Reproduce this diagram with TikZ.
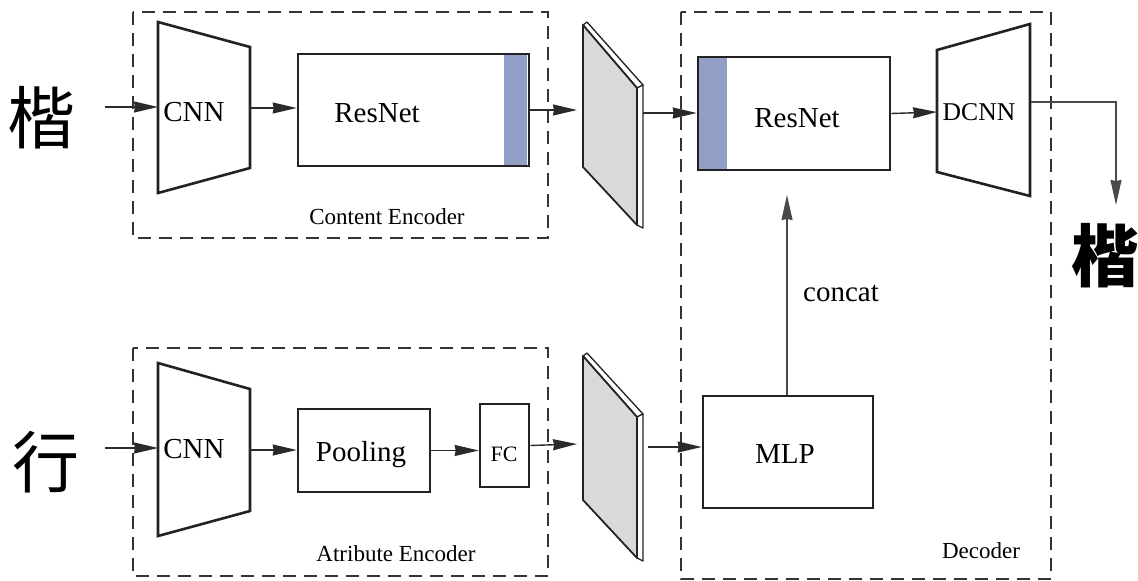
\documentclass[tikz,border=0pt]{standalone}
\usepackage{fontspec}
\setmainfont{Liberation Serif}
\newfontfamily\cjk{Noto Sans CJK SC}
\usetikzlibrary{arrows.meta,calc}
\definecolor{linec}{HTML}{222222}
\definecolor{arrc}{HTML}{2A2A2A}
\definecolor{dashc}{HTML}{333333}
\definecolor{stripc}{HTML}{919FC6}
\definecolor{slabc}{HTML}{D9D9D9}
\begin{document}
\begin{tikzpicture}[x=1pt,y=-1pt,
  group/.style={draw=dashc, line width=2.2pt, dash pattern=on 13pt off 8pt},
  blockbox/.style={draw=linec, line width=2.6pt, fill=white, inner sep=0pt},
  trap/.style={draw=linec, line width=2.6pt, fill=white, line join=miter},
  slabface/.style={draw=linec, line width=1.8pt, fill=slabc, line join=round},
  slabedge/.style={draw=linec, line width=1.3pt, fill=white, line join=round},
  arr/.style={draw=arrc, line width=1.4pt, -{Stealth[length=24pt,width=11pt,inset=1pt]}},
  thinarr/.style={draw=arrc!85, line width=1.2pt, -{Stealth[length=25pt,width=11pt,inset=1pt]}},
  lbl/.style={inner sep=0pt, anchor=base, font=\fontsize{29}{32}\selectfont},
  small/.style={inner sep=0pt, anchor=base, font=\fontsize{23}{26}\selectfont},
  hanzi/.style={inner sep=0pt, text=black},
  ]
\useasboundingbox (0,0) rectangle (1138,581);

% ---------- group frames ----------
\draw[group] (133,12) rectangle (548,238);
\draw[group] (133,348) rectangle (548,576);
\draw[group] (681,12) rectangle (1051,579);

% ---------- input / output characters ----------
\node[hanzi, font=\cjk\fontsize{68}{68}\selectfont] (kin) at (42,118) {楷};
\node[hanzi, font=\cjk\fontsize{67}{67}\selectfont] (xin) at (46,462) {行};
\node[hanzi, font=\cjk\bfseries\fontsize{68}{68}\selectfont] (kout) at (1105,256) {楷};

% ---------- trapezoids ----------
\draw[trap] (158,22) -- (250,47) -- (250,168) -- (158,193) -- cycle;
\draw[trap] (158,363) -- (250,389) -- (250,511) -- (158,536) -- cycle;
\draw[trap] (937,50) -- (1030,24) -- (1030,196) -- (937,172) -- cycle;
\coordinate (cnnAin) at (158,107);
\coordinate (cnnAout) at (250,108);
\coordinate (cnnBin) at (158,448);
\coordinate (cnnBout) at (250,450);
\coordinate (dcnnin) at (937,112);
\coordinate (dcnnout) at (1031,102);

% ---------- boxes ----------
\node[blockbox, minimum width=231pt, minimum height=112pt] (rnA) at (413.5,110) {};
\fill[stripc] (504,55.3) rectangle (526.7,164.7);
\node[blockbox, minimum width=192pt, minimum height=113pt] (rnB) at (794,113.5) {};
\fill[stripc] (699.3,58.3) rectangle (727,168.7);
\node[blockbox, minimum width=132pt, minimum height=83pt] (pool) at (364,450.5) {};
\node[blockbox, minimum width=49pt, minimum height=83pt] (fc) at (504.5,445.5) {};
\node[blockbox, minimum width=170pt, minimum height=112pt] (mlp) at (788,452) {};

% ---------- feature slabs ----------
\draw[slabedge] (583,25) -- (587,22) -- (643,85) -- (637,88) -- cycle;
\draw[slabedge] (637,88) -- (643,85) -- (643,228) -- (637,225) -- cycle;
\draw[slabface] (583,25) -- (637,88) -- (637,225) -- (583,167) -- cycle;
\draw[slabedge] (583,356) -- (587,353) -- (643,414) -- (637,417) -- cycle;
\draw[slabedge] (637,417) -- (643,414) -- (643,561) -- (637,558) -- cycle;
\draw[slabface] (583,356) -- (637,417) -- (637,558) -- (583,500) -- cycle;
\coordinate (slabAin) at (577,110);
\coordinate (slabAout) at (643,113);
\coordinate (slabBin) at (577,444);
\coordinate (slabBout) at (648,447);

% ---------- labels ----------
\node[lbl] (tcnnA) at (194,121) {CNN};
\node[lbl] (trnA) at (377,122) {ResNet};
\node[small] (tce) at (387,224) {Content Encoder};
\node[lbl] (trnB) at (797,127) {ResNet};
\node[lbl, font=\fontsize{25.6}{28}\selectfont] (tdcnn) at (979,120) {DCNN};
\node[lbl] (tconcat) at (841,301) {concat};
\node[lbl] (tmlp) at (785,463) {MLP};
\node[small] (tdec) at (981,558) {Decoder};
\node[lbl] (tcnnB) at (194,458) {CNN};
\node[lbl] (tpool) at (361,461) {Pooling};
\node[lbl, font=\fontsize{22}{24}\selectfont] (tfc) at (504,461) {FC};
\node[small] (tae) at (396,561) {Atribute Encoder};

% ---------- connectors ----------
\coordinate (inA) at (105,107);
\coordinate (inB) at (105,448);
\draw[arr] (inA) -- (cnnAin);
\draw[arr] (cnnAout) -- (cnnAout -| rnA.west);
\draw[arr] (rnA.east) -- (slabAin);
\draw[arr] (slabAout) -- (slabAout -| rnB.west);
\draw[arr] (rnB.east) -- (dcnnin);
\coordinate (outtip) at (1116,205);
\draw[thinarr] (dcnnout) -| (outtip);

\draw[arr] (inB) -- (cnnBin);
\draw[arr] (cnnBout) -- (cnnBout -| pool.west);
\draw[arr] (pool.east) -- (pool.east -| fc.west);
\draw[arr] (fc.east) -- (slabBin);
\draw[arr] (slabBout) -- (slabBout -| mlp.west);
\coordinate (ctip) at (787,195);
\draw[thinarr] (mlp.north -| ctip) -- (ctip);
\end{tikzpicture}
\end{document}
